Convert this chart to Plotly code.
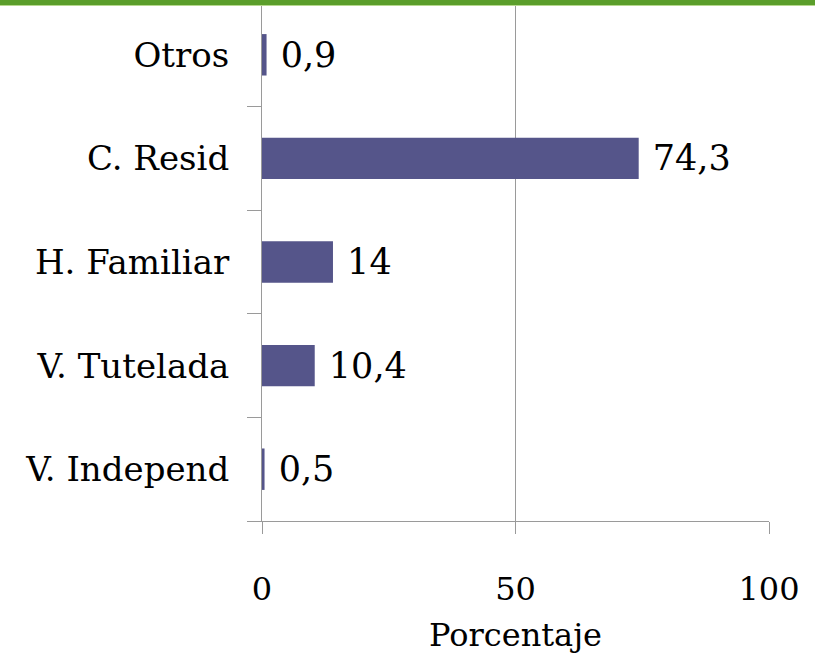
import plotly.graph_objects as go

categories = ["V. Independ", "V. Tutelada", "H. Familiar", "C. Resid", "Otros"]
values = [0.5, 10.4, 14, 74.3, 0.9]
value_labels = ["0,5", "10,4", "14", "74,3", "0,9"]
x_ticks = [0, 50, 100]
x_tick_labels = ["0", "50", "100"]

FONT = "DejaVu Serif"
GRAY = "#9a9a9a"

fig = go.Figure(go.Bar(
    y=categories,
    x=values,
    orientation="h",
    marker=dict(color="#55558a", line=dict(width=0)),
    text=["\u00a0" + t for t in value_labels],
    textposition="outside",
    textfont=dict(family=FONT, size=35, color="black"),
    cliponaxis=False,
))

fig.update_layout(
    width=815, height=659,
    margin=dict(l=262, r=46, t=3, b=138),
    paper_bgcolor="white", plot_bgcolor="white",
    bargap=0.6,
    showlegend=False,
    font=dict(family=FONT, size=34, color="black"),
    xaxis=dict(
        range=[0, 100],
        tickvals=x_ticks, ticktext=x_tick_labels,
        ticks="outside", ticklen=12, tickcolor=GRAY, tickwidth=1,
        showgrid=True, gridcolor=GRAY, gridwidth=1,
        showline=True, linecolor=GRAY, linewidth=1,
        zeroline=False,
        tickfont=dict(family=FONT, size=32, color="black"),
        ticklabelstandoff=28,
        title=dict(text="Porcentaje", font=dict(family=FONT, size=32, color="black"), standoff=16),
        automargin=False,
    ),
    yaxis=dict(
        type="category",
        tickson="boundaries",
        ticks="outside", ticklen=14, tickcolor=GRAY, tickwidth=1,
        showgrid=False,
        showline=True, linecolor=GRAY, linewidth=1,
        tickfont=dict(family=FONT, size=34, color="black"),
        ticklabelstandoff=25,
        automargin=False,
    ),
    shapes=[
        dict(type="rect", xref="paper", yref="paper", x0=-0.6, x1=1.2,
             ysizemode="pixel", yanchor=1, y0=-2, y1=3,
             fillcolor="#5b9e2b", line=dict(width=0), layer="above"),
        dict(type="rect", xref="paper", yref="paper", x0=-0.6, x1=1.2,
             ysizemode="pixel", yanchor=1, y0=-3, y1=-2,
             fillcolor="#b7d88f", line=dict(width=0), layer="above"),
    ],
)

fig.write_html("out.html", config={"displayModeBar": False},
               post_script="document.body.style.margin='0px';")
